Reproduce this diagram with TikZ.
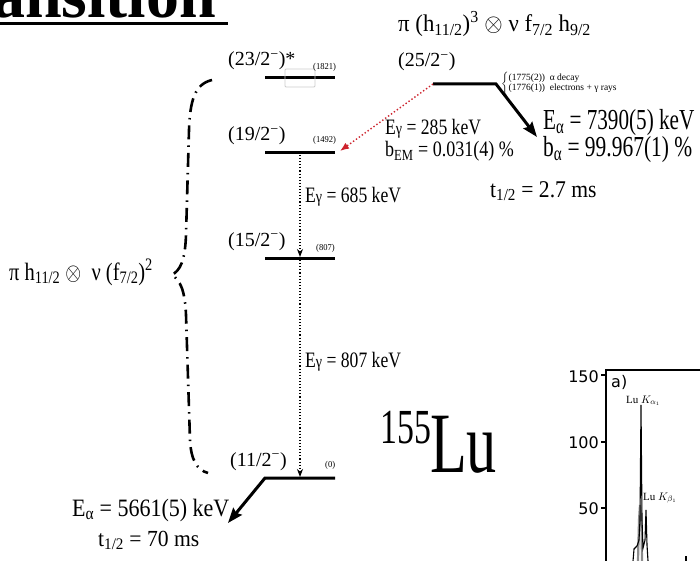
\documentclass[tikz,border=0pt]{standalone}
\usepackage{fontspec}
\setmainfont{Liberation Serif}
\newfontfamily\sansf{DejaVu Sans}
\usepackage{graphicx}
\usetikzlibrary{arrows.meta}
\newcommand{\Tx}[3]{{\fontsize{#1}{#1}\selectfont\scalebox{#2}[1]{#3}}}
\newcommand{\gsub}{\scalebox{0.8}{γ}}
\definecolor{redc}{RGB}{205,35,45}
\begin{document}
\begin{tikzpicture}[x=1pt,y=-1pt,
  lvl/.style={line width=3pt},
  lab/.style={inner sep=0pt, anchor=base west},
  gam/.style={line width=1.1pt, dash pattern=on 1.1pt off 2pt, -{Stealth[length=8pt,width=6pt,inset=2.5pt]}},
  brc/.style={line width=2.6pt, dash pattern=on 14pt off 6pt on 1.5pt off 6pt},
]
\useasboundingbox (0,0) rectangle (700,561);
\clip (0,0) rectangle (700,561);

% title fragment
\node[lab] (title) at (-8,18) {\fontsize{66}{66}\selectfont\bfseries ansition};
\coordinate (ulA) at (0,23.5);
\coordinate (ulB) at (228,23.5);
\draw[line width=3pt] (ulA) -- (ulB);

% level coordinates
\coordinate (L23a) at (265,78);  \coordinate (L23b) at (335,78);
\coordinate (L19a) at (265,153); \coordinate (L19b) at (335,153);
\coordinate (L15a) at (265,258); \coordinate (L15b) at (335,258);
\coordinate (L11a) at (265,478); \coordinate (L11b) at (335,478);
\coordinate (L25a) at (433,84);  \coordinate (L25b) at (496,84);
\coordinate (A25) at (537,137);  \coordinate (A11) at (228,523);
\coordinate (R19) at (340,151);
\coordinate (g19) at (300,155);  \coordinate (g15) at (300,257);
\coordinate (g15b) at (300,260); \coordinate (g11) at (300,477);

\draw[lvl] (L23a) -- (L23b);
\draw[lvl] (L19a) -- (L19b);
\draw[lvl] (L15a) -- (L15b);
\draw[lvl, -{Stealth[length=15pt,width=11pt,inset=2pt]}] (L11b) -- (L11a) -- (A11);
\draw[lvl, -{Stealth[length=15pt,width=11pt,inset=2pt]}] (L25a) -- (L25b) -- (A25);

% gray box on 23/2 level
\draw[black!20, line width=0.8pt, rounded corners=1pt] (285,69) rectangle (315,87);

% transitions
\draw[redc, line width=1.4pt, dash pattern=on 1.4pt off 2.2pt, -{Latex[length=9pt,width=7pt]}] (L25a) -- (R19);
\draw[gam] (g19) -- (g15);
\draw[gam] (g15b) -- (g11);

% level labels
\node[lab] (t23) at (228,66) {\Tx{20}{1}{(23/2\textsuperscript{−})*}};
\node[lab] (t19) at (228,141) {\Tx{20}{1}{(19/2\textsuperscript{−})}};
\node[lab] (t15) at (228,246) {\Tx{20}{1}{(15/2\textsuperscript{−})}};
\node[lab] (t11) at (230,466) {\Tx{20}{1}{(11/2\textsuperscript{−})}};
\node[lab] (t25) at (398,67) {\Tx{20}{1}{(25/2\textsuperscript{−})}};
\node[lab] (e23) at (313,70) {\Tx{9}{0.95}{(1821)}};
\node[lab] (e19) at (313,143) {\Tx{9}{0.95}{(1492)}};
\node[lab] (e15) at (316,250) {\Tx{9}{0.95}{(807)}};
\node[lab] (e11) at (325,467) {\Tx{9}{0.95}{(0)}};

% gamma labels
\node[lab] (g285) at (385,135) {\Tx{22}{0.8}{E\gsub{} = 285 keV}};
\node[lab] (bem) at (385,157) {\Tx{22}{0.82}{b\textsubscript{EM} = 0.031(4) \%}};
\node[lab] (g685) at (305,203) {\Tx{22}{0.8}{E\gsub{} = 685 keV}};
\node[lab] (g807) at (305,367) {\Tx{22}{0.8}{E\gsub{} = 807 keV}};

% 25/2 decay info
\node[lab] (cfg25) at (398,32) {\Tx{24}{0.95}{π (h\textsubscript{11/2})\textsuperscript{3} $\otimes$ ν f\textsubscript{7/2} h\textsubscript{9/2}}};
\node[inner sep=0pt, anchor=west] (brtxt) at (501,84) {\fontsize{9.5}{10}\selectfont$\left\{\mbox{\begin{tabular}{@{}l@{}}(1775(2))~~α decay\\(1776(1))~~electrons + γ rays\end{tabular}}\right.$};
\node[lab] (ea25) at (543,130) {\Tx{29}{0.73}{E\textsubscript{α} = 7390(5) keV}};
\node[lab] (ba25) at (543,157) {\Tx{29}{0.74}{b\textsubscript{α} = 99.967(1) \%}};
\node[lab] (th25) at (490,197) {\Tx{24}{0.9}{t\textsubscript{1/2} = 2.7 ms}};

% 11/2 decay info
\node[lab] (ea11) at (72,516) {\Tx{25}{0.88}{E\textsubscript{α} = 5661(5) keV}};
\node[lab] (th11) at (98,546) {\Tx{23}{0.94}{t\textsubscript{1/2} = 70 ms}};

% left configuration and brace
\node[lab] (cfgL) at (9,280) {\Tx{25}{0.82}{π h\textsubscript{11/2} $\otimes$ ~ν (f\textsubscript{7/2})\textsuperscript{2}}};
\coordinate (bT) at (212,80);
\coordinate (bM) at (172,275);
\coordinate (bB) at (208,473);
\draw[brc] (bT) .. controls (195,84) and (190,100) .. (189,130) -- (186,235)
  .. controls (185,262) and (180,270) .. (bM)
  .. controls (180,280) and (185,290) .. (186,315) -- (190,440)
  .. controls (191,460) and (197,470) .. (bB);

% nucleus label
\node[lab] (n155) at (380,443) {\Tx{49}{0.69}{155}};
\node[lab] (nLu) at (430,472) {\Tx{86}{0.70}{Lu}};

% plot fragment
\coordinate (axTR) at (700,370); \coordinate (axTL) at (606,370); \coordinate (axBL) at (606,561);
\draw[line width=1.3pt] (axTR) -- (axTL) -- (axBL);
\foreach \yy/\nm in {375/t150,442/t100,508/t50}{
  \coordinate (\nm a) at (601,\yy); \coordinate (\nm b) at (606,\yy);
  \draw[line width=1.2pt] (\nm a) -- (\nm b);
}
\node[inner sep=0pt, anchor=east] (y150) at (599,377) {\sansf\fontsize{16}{16}\selectfont 150};
\node[inner sep=0pt, anchor=east] (y100) at (599,443) {\sansf\fontsize{16}{16}\selectfont 100};
\node[inner sep=0pt, anchor=east] (y50) at (599,509) {\sansf\fontsize{16}{16}\selectfont 50};
\node[lab] (pa) at (611,387) {\sansf\fontsize{16}{16}\selectfont a)};
\node[lab] (pk1) at (626,403) {\fontsize{11}{11}\selectfont Lu $K_{\alpha_1}$};
\node[lab] (pk2) at (643,500) {\fontsize{11}{11}\selectfont Lu $K_{\beta_1}$};
\draw[black!45, line width=2.2pt] (638,561) -- (639,520) -- (640,505) -- (641.5,525) -- (642,561);
\draw[line width=1.1pt] (633,561) -- (634,549) -- (637,546) -- (639,540) -- (640,520) -- (641,405) -- (642,520) -- (643,548) -- (645,540) -- (646,510) -- (647,545) -- (648,561);
\draw[line width=2pt] (686,556) -- (686,561);
\end{tikzpicture}
\end{document}
